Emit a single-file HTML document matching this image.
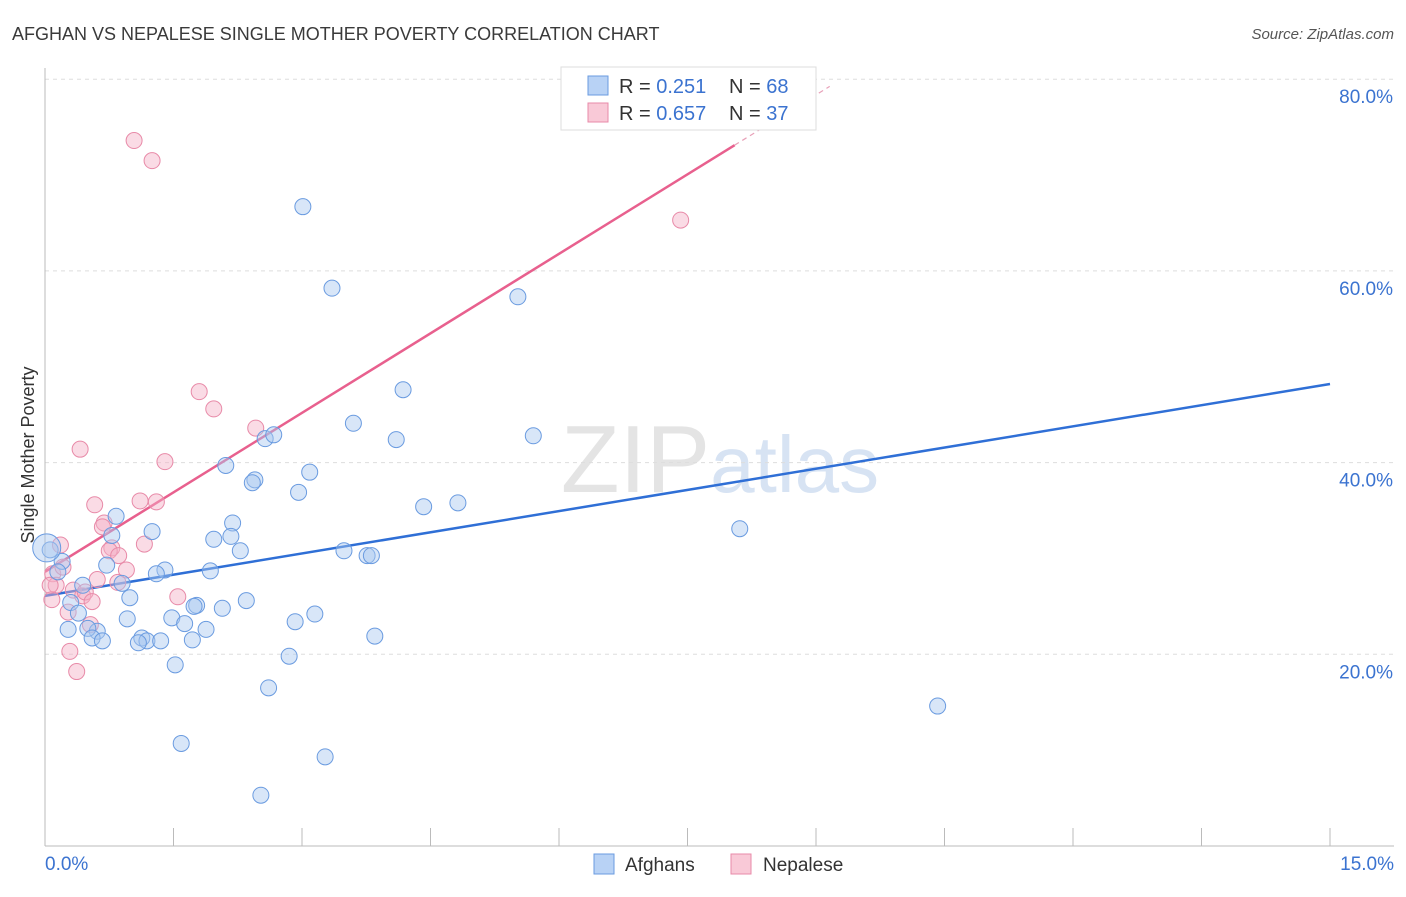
<!DOCTYPE html>
<html><head><meta charset="utf-8"><style>
body{margin:0;background:#fff;font-family:"Liberation Sans",sans-serif;}
svg text{font-family:"Liberation Sans",sans-serif;}
</style></head><body>
<svg id="chart" width="1406" height="892" viewBox="0 0 1406 892">
<text x="12" y="40" font-size="18" fill="#3a3a3a">AFGHAN VS NEPALESE SINGLE MOTHER POVERTY CORRELATION CHART</text>
<text x="1394" y="39" font-size="15" fill="#555" font-style="italic" text-anchor="end">Source: ZipAtlas.com</text>
<text x="720" y="492" font-size="96" fill="#e4e4e4" text-anchor="middle" font-family="Liberation Serif, serif">ZIP<tspan fill="#d7e3f3" font-family="Liberation Sans, sans-serif" font-size="80">atlas</tspan></text>
<g id="grid"></g><g id="axes"></g><g id="lines"></g><g id="pts"></g>
<text x="34" y="455" font-size="18" fill="#333" text-anchor="middle" transform="rotate(-90 34 455)">Single Mother Poverty</text>
<g>
<rect x="561" y="67" width="255" height="63" fill="#fff" stroke="#ddd"/>
<rect x="588" y="76" width="20" height="19" fill="#b8d2f5" stroke="#6a9be0"/>
<rect x="588" y="103" width="20" height="19" fill="#f9c9d7" stroke="#e88aa8"/>
<text x="619" y="93" font-size="20" fill="#333">R = <tspan fill="#3b73d0"> 0.251</tspan><tspan x="729">N = </tspan><tspan fill="#3b73d0">68</tspan></text>
<text x="619" y="120" font-size="20" fill="#333">R = <tspan fill="#3b73d0">0.657</tspan><tspan x="729">N = </tspan><tspan fill="#3b73d0">37</tspan></text>
</g>
<g>
<rect x="594" y="854" width="20" height="20" fill="#b8d2f5" stroke="#6a9be0"/>
<text x="625" y="871" font-size="19" fill="#333">Afghans</text>
<rect x="731" y="854" width="20" height="20" fill="#f9c9d7" stroke="#e88aa8"/>
<text x="763" y="871" font-size="19" fill="#333">Nepalese</text>
</g>
</svg>
<script>
const yTicks=[20,40,60,80];
const xTickCount=10;
const blueX=[3.01,3.35,5.52,4.18,3.60,5.70,4.10,2.57,2.67,2.11,2.45,2.42,3.09,2.96,4.42,4.82,0.83,2.19,1.25,0.78,1.97,2.17,8.11,2.28,3.49,3.76,3.81,0.06,0.20,0.15,0.72,1.40,1.30,1.93,0.90,0.44,0.99,0.30,2.35,1.77,1.74,2.07,0.39,0.96,1.48,1.63,3.15,2.92,0.27,0.61,1.88,0.50,0.55,0.67,1.13,1.19,1.09,1.35,1.72,3.85,2.85,1.52,2.61,10.42,1.59,3.27,2.52,0.02];
const blueY=[66.7,58.2,57.3,47.6,44.1,42.8,42.4,42.5,42.9,39.7,38.2,37.9,39.0,36.9,35.4,35.8,34.4,33.7,32.8,32.4,32.0,32.3,33.1,30.8,30.8,30.3,30.3,30.9,29.7,28.6,29.3,28.8,28.4,28.7,27.4,27.2,25.9,25.4,25.6,25.1,25.0,24.8,24.3,23.7,23.8,23.2,24.2,23.4,22.6,22.4,22.6,22.7,21.7,21.4,21.7,21.4,21.2,21.4,21.5,21.9,19.8,18.9,16.5,14.6,10.7,9.3,5.3,31.1];
const pinkX=[1.04,1.25,7.42,1.80,1.97,2.46,0.41,1.40,0.58,1.11,1.30,0.69,0.67,1.16,0.18,0.78,0.75,0.86,0.95,0.09,0.21,0.61,0.85,0.13,0.33,0.44,0.47,0.08,0.55,0.27,0.53,0.29,0.37,1.55,0.06];
const pinkY=[73.6,71.5,65.3,47.4,45.6,43.6,41.4,40.1,35.6,36.0,35.9,33.7,33.3,31.5,31.4,31.1,30.8,30.3,28.8,28.4,29.1,27.8,27.5,27.2,26.7,26.1,26.5,25.7,25.5,24.4,23.1,20.3,18.2,26.0,27.2];
const blueTrend=[26.1,48.2];
const pinkTrend=[28.6,5.53];
const NS='http://www.w3.org/2000/svg';
const sx=v=>45+v/15*1285, sy=v=>846-v*9.585;
function mk(p,tag,a){const e=document.createElementNS(NS,tag);for(const k in a)e.setAttribute(k,a[k]);document.getElementById(p).appendChild(e);return e;}
yTicks.forEach(t=>{
 const g=mk('grid','line',{x1:45,x2:1394,y1:sy(t),y2:sy(t),stroke:'#ddd','stroke-dasharray':'4,4'});
 
 
 const l=mk('axes','text',{x:1393,y:sy(t)+24,'font-size':19,fill:'#3b73d0','text-anchor':'end'});l.textContent=t.toFixed(1)+'%';
 
 
});
mk('axes','line',{x1:45,x2:45,y1:68,y2:846,stroke:'#bbb'});
mk('axes','line',{x1:45,x2:1394,y1:846,y2:846,stroke:'#bbb'});
for(let i=0;i<=xTickCount;i++){const x=sx(i*1.5);const t=mk('axes','line',{x1:x,x2:x,y1:828,y2:846,stroke:'#bbb'});
 
 }
const x0=mk('axes','text',{x:45,y:870,'font-size':19,fill:'#3b73d0'});x0.textContent='0.0%';


const x1=mk('axes','text',{x:1394,y:870,'font-size':19,fill:'#3b73d0','text-anchor':'end'});x1.textContent='15.0%';


function dots(X,Y,fill,stroke,name){X.forEach((x,i)=>{const c=mk('pts','circle',{cx:sx(x),cy:sy(Y[i]),r:i==X.length-1&&name=='afghan-point'?14:8,fill:fill,'fill-opacity':0.45,stroke:stroke,'stroke-width':1});
 
 });}
dots(pinkX,pinkY,'#f5b0c5','#e88aa8','nepalese-point');
dots(blueX,blueY,'#a9c8f0','#6a9be0','afghan-point');
const bl=mk('lines','line',{x1:sx(0),y1:sy(blueTrend[0]),x2:sx(15),y2:sy(blueTrend[1]),stroke:'#2f6fd6','stroke-width':2.5});


const pe=8.05, pd=9.16;
const pl=mk('lines','line',{x1:sx(0),y1:sy(pinkTrend[0]),x2:sx(pe),y2:sy(pinkTrend[0]+pinkTrend[1]*pe),stroke:'#e8608e','stroke-width':2.5});


const pdl=mk('lines','line',{x1:sx(pe),y1:sy(pinkTrend[0]+pinkTrend[1]*pe),x2:sx(pd),y2:sy(pinkTrend[0]+pinkTrend[1]*pd),stroke:'#e8a0b8','stroke-width':1.2,'stroke-dasharray':'5,4'});


</script>
</body></html>
